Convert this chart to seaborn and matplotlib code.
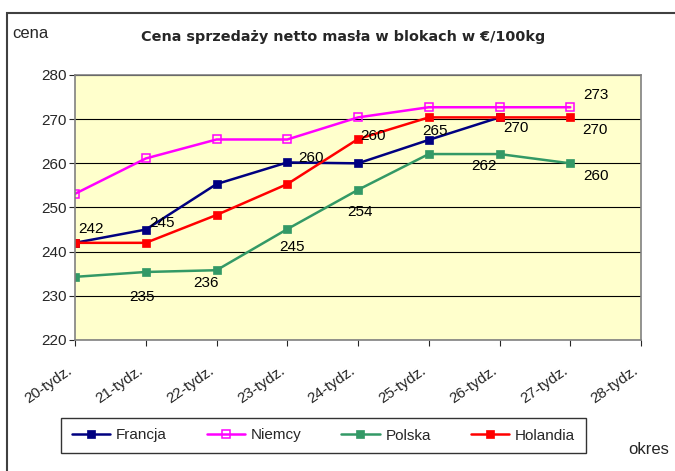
import numpy as np
import pandas as pd
import matplotlib.pyplot as plt
from matplotlib.patches import Rectangle
from matplotlib.transforms import ScaledTranslation
import seaborn as sns

weeks = ['20-tydz.', '21-tydz.', '22-tydz.', '23-tydz.', '24-tydz.',
         '25-tydz.', '26-tydz.', '27-tydz.', '28-tydz.']
francja = [242, 245, 255.3, 260.2, 260, 265.3, 270.4, np.nan]
niemcy = [253.1, 261.1, 265.4, 265.4, 270.4, 272.7, 272.7, 272.7]
polska = [234.3, 235.4, 235.8, 245.1, 254, 262.1, 262.1, 260]
holandia = [242, 242, 248.3, 255.3, 265.5, 270.4, 270.4, 270.4]

# data labels: (series, week index, text)
labels = [('Francja', 0, '242'), ('Francja', 1, '245'), ('Francja', 3, '260'),
          ('Francja', 4, '260'), ('Francja', 5, '265'), ('Francja', 6, '270'),
          ('Holandia', 7, '270'), ('Niemcy', 7, '273'),
          ('Polska', 1, '235'), ('Polska', 2, '236'), ('Polska', 3, '245'),
          ('Polska', 4, '254'), ('Polska', 6, '262'), ('Polska', 7, '260')]
# label offsets in pixels (dx, dy down)
offsets = [(16, -14), (16, -7), (24, -4), (15, -27), (6, -9), (16, 11),
           (25, 13), (26, -12), (-4, 25), (-10, 13), (5, 18), (2, 22),
           (-16, 12), (26, 13)]

series = {'Francja': francja, 'Niemcy': niemcy, 'Polska': polska, 'Holandia': holandia}
colors = {'Francja': '#000080', 'Niemcy': '#FF00FF', 'Polska': '#339966', 'Holandia': '#FF0000'}

df = pd.DataFrame([(name, i, v) for name, vals in series.items() for i, v in enumerate(vals)],
                  columns=['kraj', 'x', 'cena'])

sns.set_style('white')
plt.rcParams['font.family'] = ['Liberation Sans', 'DejaVu Sans']

fig = plt.figure(figsize=(6.75, 4.71), dpi=100)
ax = fig.add_axes([75/675, 1-340/471, 566/675, 265/471])
ax.set_facecolor('#FFFFCC')

for name in series:
    sub = df[df.kraj == name].dropna()
    hollow = name == 'Niemcy'
    sns.lineplot(data=sub, x='x', y='cena', ax=ax, color=colors[name], lw=1.8,
                 marker='s', markersize=5.5, label=name,
                 markerfacecolor='none' if hollow else colors[name],
                 markeredgecolor=colors[name], markeredgewidth=1.1 if hollow else 0.5)

for (name, i, txt), (dx, dy) in zip(labels, offsets):
    ax.annotate(txt, (i, series[name][i]), xytext=(dx, -dy), textcoords='offset pixels',
                ha='center', va='center', fontsize=11, color='black')

ax.set_xlim(0, 8)
ax.set_ylim(220, 280)
ax.set_yticks(range(220, 281, 10))
ax.set_xticks(range(len(weeks)))
ax.set_xticklabels(weeks, rotation=35, ha='right', va='center', rotation_mode='anchor', fontsize=11)
ax.tick_params(axis='y', labelsize=11, length=4, direction='out', left=True, pad=2)
ax.tick_params(axis='x', length=4, direction='out', bottom=True, pad=17)
shift = ScaledTranslation(-4/100, 0, fig.dpi_scale_trans)
for lab in ax.get_xticklabels():
    lab.set_transform(lab.get_transform() + shift)
ax.grid(axis='y', color='black', lw=0.8)
for s in ax.spines.values():
    s.set_color('#808080')
    s.set_linewidth(1.2)
ax.set_xlabel('')
ax.set_ylabel('')

leg = ax.legend(loc='center', bbox_to_anchor=(323.5/675, 1-435.5/471), bbox_transform=fig.transFigure,
                ncol=4, frameon=True, fancybox=False, fontsize=11, handlelength=2.5,
                columnspacing=2.6, handletextpad=0.4, borderpad=0.7, borderaxespad=0)
leg.get_frame().set_edgecolor('black')
leg.get_frame().set_linewidth(1.0)

fig.text(343/675, 1-37/471, 'Cena sprzedaży netto masła w blokach w €/100kg',
         ha='center', va='center', fontsize=10.4, fontweight='bold', family='DejaVu Sans')
fig.text(12/675, 1-33/471, 'cena', ha='left', va='center', fontsize=12)
fig.text(628/675, 1-450/471, 'okres', ha='left', va='center', fontsize=12)

fig.patches.append(Rectangle((7/675, -0.1), 1.2, (1-13/471) + 0.1, transform=fig.transFigure,
                             fill=False, edgecolor='#404040', lw=1.5))

fig.savefig('out.png', dpi=100)
